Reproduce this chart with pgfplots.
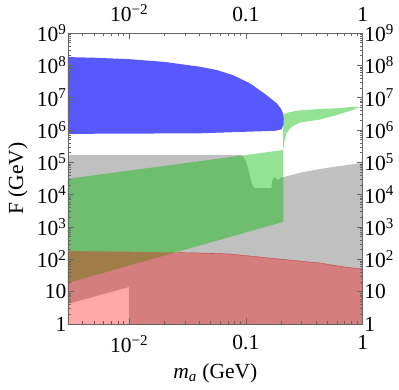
\documentclass[border=0pt]{standalone}
\usepackage{fontspec}
\setmainfont{Liberation Serif}
\usepackage{pgfplots}
\pgfplotsset{compat=1.18}
\definecolor{grayreg}{RGB}{192,192,192}
\definecolor{greenreg}{RGB}{0,185,0}
\definecolor{bluereg}{RGB}{88,88,255}
\definecolor{framec}{RGB}{100,100,100}

\begin{document}
\begin{tikzpicture}
\begin{axis}[name=main,
    width=294.7pt, height=291pt, scale only axis,
    xmode=log, ymode=log,
    xmin=0.003, xmax=1, ymin=1, ymax=1e9,
    xtick={0.01,0.1,1},
    xticklabels={10\textsuperscript{−2},0.1,1},
    ytick={1,10,100,1000,1e4,1e5,1e6,1e7,1e8,1e9},
    yticklabels={1,10,10\textsuperscript{2},10\textsuperscript{3},10\textsuperscript{4},10\textsuperscript{5},10\textsuperscript{6},10\textsuperscript{7},10\textsuperscript{8},10\textsuperscript{9}},
    minor xtick={0.004,0.005,0.006,0.007,0.008,0.009,0.02,0.03,0.04,0.05,0.06,0.07,0.08,0.09,0.2,0.3,0.4,0.5,0.6,0.7,0.8,0.9},
    minor ytick={2,3,4,5,6,7,8,9,20,30,40,50,60,70,80,90,200,300,400,500,600,700,800,900,
      2e3,3e3,4e3,5e3,6e3,7e3,8e3,9e3,2e4,3e4,4e4,5e4,6e4,7e4,8e4,9e4,2e5,3e5,4e5,5e5,6e5,7e5,8e5,9e5,
      2e6,3e6,4e6,5e6,6e6,7e6,8e6,9e6,2e7,3e7,4e7,5e7,6e7,7e7,8e7,9e7,
      2e8,3e8,4e8,5e8,6e8,7e8,8e8,9e8},
    tick align=inside,
    major tick length=6pt, minor tick length=3pt,
    axis line style={framec, line width=0.5pt},
    tick style={framec, line width=0.5pt},
    tick label style={font=\fontsize{21.5}{25}\selectfont},
    xticklabel style={inner sep=1pt, yshift=-10pt},
    yticklabel style={inner sep=1.5pt},
    label style={font=\fontsize{21.5}{25}\selectfont},
    xlabel={\textit{m}\textsubscript{\textit{a}} (GeV)},
    ylabel={F (GeV)},
    xlabel style={at={(axis description cs:0.5,-0.168)}, anchor=center},
    ylabel style={at={(axis description cs:-0.17,0.5)}, anchor=center},
  ]

  % gray region (hole at lower left)
  \addplot[fill=grayreg, draw=none] coordinates {
    (0.003,4.2) (0.01,14) (0.01,1) (1,1) (1,9.6e4) (0.8,8.6e4) (0.6,7.5e4)
    (0.43,6.2e4) (0.3,4.9e4) (0.25,4.1e4) (0.21,3.5e4) (0.2,3.4e4)
    (0.192,2.9e4) (0.185,3.0e4) (0.178,3.4e4) (0.172,3.2e4) (0.168,2.6e4)
    (0.165,1.6e4) (0.12,1.6e4) (0.115,1.8e4) (0.11,3e4) (0.105,6e4)
    (0.1,1.1e5) (0.095,1.5e5) (0.09,1.7e5) (0.003,1.7e5)
  } \closedcycle;

  % green region
  \addplot[fill=greenreg, fill opacity=0.42, draw=none] coordinates {
    (0.003,18.6) (0.209,1450) (0.209,2.4e5) (0.212,3.5e5) (0.215,4.9e5)
    (0.222,7.9e5) (0.246,1.26e6) (0.289,1.7e6) (0.43,2.1e6) (0.598,2.9e6)
    (0.831,4.2e6) (0.917,5.0e6) (0.98,5.1e6) (0.9,5.25e6) (0.83,5.2e6)
    (0.6,4.7e6) (0.45,4.5e6) (0.33,4.2e6) (0.28,4.0e6) (0.24,3.6e6)
    (0.22,3.3e6) (0.211,3.0e6) (0.208,2.9e6) (0.208,2.4e5) (0.003,3.1e4)
  };

  % red region
  \addplot[fill=red, fill opacity=0.34, draw=none] coordinates {
    (0.003,1) (0.003,180) (0.01,172) (0.026,162) (0.04,157) (0.07,148)
    (0.108,127) (0.15,112) (0.238,95) (0.43,77) (0.7,58) (1,50) (1,1)
  };
  % thin edge on top of the red region
  \addplot[red!75!black, line width=0.4pt, opacity=0.6] coordinates {
    (0.026,162) (0.04,157) (0.07,148)
    (0.108,127) (0.15,112) (0.238,95) (0.43,77) (0.7,58) (1,50)
  };

  % blue region
  \addplot[fill=bluereg, draw=none] coordinates {
    (0.003,1.8e8) (0.005,1.72e8) (0.01,1.55e8) (0.02,1.28e8) (0.04,9.1e7)
    (0.056,7.2e7) (0.077,5.0e7) (0.108,2.8e7) (0.15,1.2e7) (0.183,6.8e6)
    (0.2,4.5e6) (0.208,3.3e6) (0.211,2.2e6) (0.21,1.5e6) (0.202,1.05e6)
    (0.18,9.5e5) (0.108,8.9e5) (0.04,7.9e5) (0.003,7.6e5)
  };
\end{axis}

% same frame, labels on top and right
\begin{axis}[
    width=294.7pt, height=291pt, scale only axis,
    xmode=log, ymode=log,
    xmin=0.003, xmax=1, ymin=1, ymax=1e9,
    xtick={0.01,0.1,1},
    xticklabels={10\textsuperscript{−2},0.1,1},
    ytick={1,10,100,1000,1e4,1e5,1e6,1e7,1e8,1e9},
    yticklabels={1,10,10\textsuperscript{2},10\textsuperscript{3},10\textsuperscript{4},10\textsuperscript{5},10\textsuperscript{6},10\textsuperscript{7},10\textsuperscript{8},10\textsuperscript{9}},
    xticklabel pos=right, yticklabel pos=right,
    tick align=inside, major tick length=6pt,
    axis line style={framec, line width=0.5pt},
    tick style={framec, line width=0.5pt},
    tick label style={font=\fontsize{21.5}{25}\selectfont},
    xticklabel style={inner sep=1pt, yshift=10pt},
    yticklabel style={inner sep=1.5pt},
  ]
\end{axis}

\pgfresetboundingbox
\path[use as bounding box] ([shift={(-68pt,-65pt)}]main.south west)
  rectangle ([shift={(36.3pt,33pt)}]main.north east);
\end{tikzpicture}
\end{document}
